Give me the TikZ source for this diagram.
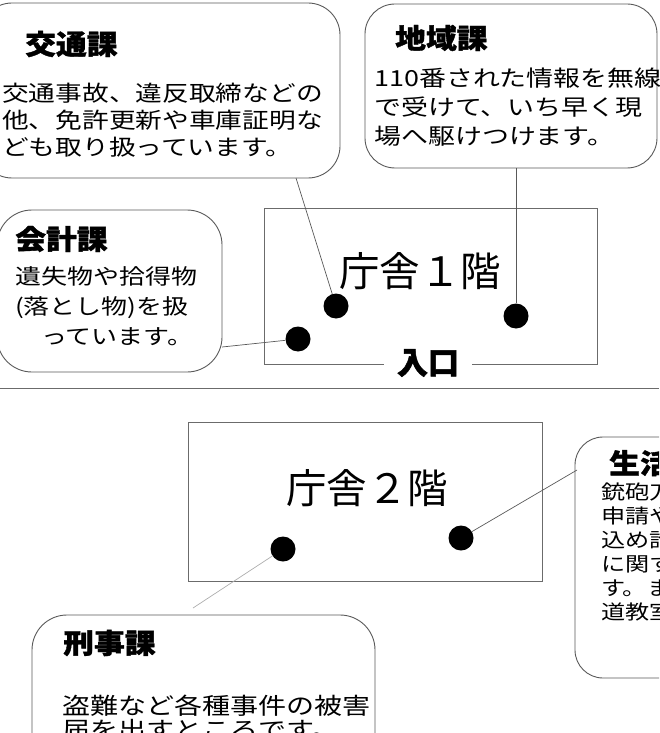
\documentclass[tikz,border=0pt]{standalone}
\usepackage{fontspec}
\newfontfamily\jp{Noto Sans CJK JP}[FakeStretch=1.22]
\newfontfamily\jph{Noto Sans CJK JP}[FakeStretch=1.12,BoldFeatures={FakeBold=1.3}]
\newfontfamily\jpn{Noto Sans CJK JP}[BoldFeatures={FakeBold=1.6}]
\definecolor{edgegray}{gray}{0.35}
\definecolor{rectgray}{gray}{0.42}
\definecolor{lightgray2}{gray}{0.68}
\begin{document}
\begin{tikzpicture}[x=1pt,y=-1pt,
  bubble/.style={draw=edgegray,line width=0.9pt,inner sep=0,rounded corners=#1},
  bubble/.default=32pt,
  floor/.style={draw=rectgray,line width=0.8pt,inner sep=0},
  head/.style={anchor=west,inner sep=0,font=\fontsize{27.5}{27.5}\selectfont\jph\bfseries},
  body/.style={anchor=west,inner sep=0,align=left},
  dot/.style={circle,fill=black,minimum size=25,inner sep=0},
  link/.style={draw=edgegray,line width=0.7pt},
  floorlabel/.style={inner sep=0,font=\fontsize{40.5}{40.5}\selectfont\jpn}
]
\useasboundingbox (0,0) rectangle (659,733);
\clip (0,0) rectangle (659,733);

% separator
\coordinate (sepL) at (0,388);
\coordinate (sepR) at (659,388);
\draw[draw=rectgray,line width=0.8pt] (sepL) -- (sepR);

% floor 1
\node[floor,minimum width=333,minimum height=156] (f1) at (430.5,286) {};
\node[floorlabel] (f1t) at (420,271) {庁舎１階};
\node[fill=white,inner xsep=13,inner ysep=2,font=\fontsize{31}{31}\selectfont\jpn\bfseries] (entr) at (428,363) {入口};

% floor 2
\node[floor,minimum width=354,minimum height=159] (f2) at (365,501.5) {};
\node[floorlabel] (f2t) at (367,488) {庁舎２階};

% bubbles
\node[bubble,minimum width=360,minimum height=175] (kout) at (160,90.5) {};
\node[head] (koutH) at (25,44) {交通課};
\node[body,font=\fontsize{21.9}{27}\selectfont\jp] (koutT) at (2,120)
  {交通事故、違反取締などの\\他、免許更新や車庫証明な\\ども取り扱っています。};

\node[bubble=30pt,minimum width=292,minimum height=164] (chiiki) at (511,86) {};
\node[head] (chiikiH) at (395,38) {地域課};
\node[body,font=\fontsize{22.1}{29}\selectfont\jp] (chiikiT) at (374,107)
  {110番された情報を無線\\で受けて、いち早く現\\場へ駆けつけます。};

\node[bubble=35pt,minimum width=225,minimum height=162] (kaikei) at (109.5,291) {};
\node[head] (kaikeiH) at (15,239) {会計課};
\node[body,font=\fontsize{21.3}{30}\selectfont\jp] (kaikeiT) at (15,306)
  {遺失物や拾得物\\(落とし物)を扱\\　っています。};

\node[bubble=35pt,minimum width=343,minimum height=155] (keiji) at (203.5,692.5) {};
\node[head] (keijiH) at (63,643) {刑事課};
\node[body,font=\fontsize{23}{24}\selectfont\jp] (keijiT) at (62,718)
  {盗難など各種事件の被害\\届を出すところです。};

\node[bubble=28pt,minimum width=125,minimum height=241] (seik) at (637.5,557.5) {};
\node[head] (seikH) at (609,463) {生活安全課};
\node[body,font=\fontsize{19.8}{24}\selectfont\jp] (seikT) at (601,552)
  {銃砲刀\\申請や\\込め詐\\に関す\\す。ま\\道教室};

% dots
\node[dot] (dA) at (336,306) {};
\node[dot] (dB) at (298,339) {};
\node[dot] (dC) at (516,316) {};
\node[dot] (dD) at (461,538) {};
\node[dot] (dE) at (283,549) {};

% connectors
\coordinate (kA) at (296,178);
\draw[link] (dA) -- (kA);
\draw[link] (dC) -- (dC |- chiiki.south);
\coordinate (kB) at (222,347);
\draw[link] (dB) -- (kB);
\coordinate (kD) at (577,470);
\draw[link] (dD) -- (kD);
\coordinate (kE) at (193,608);
\draw[link,draw=lightgray2] (dE) -- (kE);
\end{tikzpicture}
\end{document}
